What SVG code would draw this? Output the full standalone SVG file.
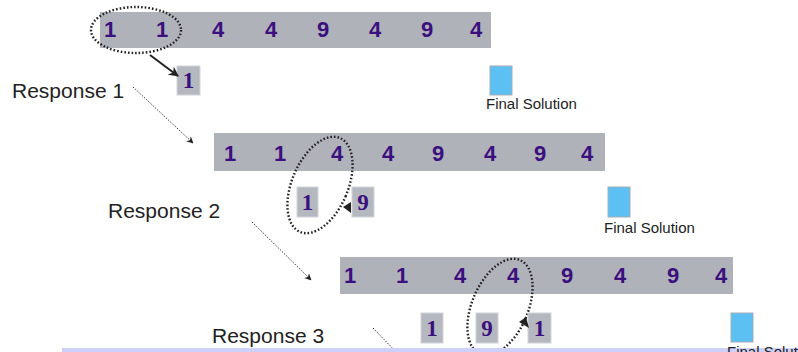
<svg xmlns="http://www.w3.org/2000/svg" width="798" height="352" viewBox="0 0 798 352">
<style>
.bar{fill:#b0b2ba}
.num{font-family:"Liberation Sans",Arial,sans-serif;font-weight:bold;font-size:22px;fill:#3a0f7e;text-anchor:middle}
.box{fill:#b6b8c0;stroke:#d2d4da;stroke-width:1}
.bnum{font-family:"Liberation Serif","Times New Roman",serif;font-weight:bold;font-size:23px;fill:#3a0f7e;text-anchor:middle}
.fin{fill:#5cc0f2;stroke:#a6adb5;stroke-width:1}
.fl{font-family:"Liberation Sans",Arial,sans-serif;font-size:15px;fill:#222}
.resp{font-family:"Liberation Sans",Arial,sans-serif;font-size:21px;fill:#222}
.dots{fill:none;stroke:#222;stroke-width:2.4;stroke-dasharray:1.6 2}
.dash{fill:none;stroke:#333;stroke-width:1;stroke-dasharray:1.5 1.5}
.solid{fill:none;stroke:#222;stroke-width:2}
.head{fill:#222}
</style>
<defs>
<marker id="ah" viewBox="0 0 10 10" refX="9" refY="5" markerWidth="10" markerHeight="10" markerUnits="userSpaceOnUse" orient="auto">
<path d="M0,0 L10,5 L0,10 L3,5 z" fill="#222"/>
</marker>
<marker id="ah2" viewBox="0 0 10 10" refX="9" refY="5" markerWidth="7" markerHeight="7" markerUnits="strokeWidth" orient="auto">
<path d="M0,0 L10,5 L0,10 L3,5 z" fill="#222"/>
</marker>
</defs>

<g id="row1">
<rect class="bar" x="100" y="12" width="391" height="36"/>
<text class="num" x="110" y="37">1</text>
<text class="num" x="162" y="37">1</text>
<text class="num" x="218" y="37">4</text>
<text class="num" x="271" y="37">4</text>
<text class="num" x="323" y="37">9</text>
<text class="num" x="375" y="37">4</text>
<text class="num" x="427" y="37">9</text>
<text class="num" x="476" y="37">4</text>
</g>
<g id="sel1"><ellipse class="dots" cx="136" cy="30" rx="45" ry="23"/></g>
<g id="r1box"><rect class="box" x="177" y="66" width="23" height="29"/><text class="bnum" x="188.5" y="88">1</text></g>
<g id="fin1"><rect class="fin" x="490" y="66" width="22" height="29"/><text class="fl" x="486" y="109">Final Solution</text></g>
<g id="resp1"><text class="resp" x="12" y="98">Response 1</text></g>

<g id="row2">
<rect class="bar" x="214" y="133" width="391" height="38"/>
<text class="num" x="230" y="161">1</text>
<text class="num" x="280" y="161">1</text>
<text class="num" x="337" y="161">4</text>
<text class="num" x="388" y="161">4</text>
<text class="num" x="438" y="161">9</text>
<text class="num" x="490" y="161">4</text>
<text class="num" x="540" y="161">9</text>
<text class="num" x="587" y="161">4</text>
</g>
<g id="sel2"><ellipse class="dots" cx="320" cy="185" rx="28" ry="51" transform="rotate(23 320 185)"/></g>
<g id="r2box1"><rect class="box" x="297" y="187" width="21" height="30"/><text class="bnum" x="307.5" y="210">1</text></g>
<g id="r2box2"><rect class="box" x="352" y="187" width="22" height="30"/><text class="bnum" x="363" y="210">9</text></g>
<g id="fin2"><rect class="fin" x="608" y="187" width="22" height="30"/><text class="fl" x="604" y="233">Final Solution</text></g>
<g id="resp2"><text class="resp" x="108" y="218">Response 2</text></g>

<g id="row3">
<rect class="bar" x="340" y="257" width="393" height="37"/>
<text class="num" x="350" y="283">1</text>
<text class="num" x="402" y="283">1</text>
<text class="num" x="460" y="283">4</text>
<text class="num" x="513" y="283">4</text>
<text class="num" x="567" y="283">9</text>
<text class="num" x="620" y="283">4</text>
<text class="num" x="673" y="283">9</text>
<text class="num" x="721" y="283">4</text>
</g>
<g id="sel3"><ellipse class="dots" cx="500" cy="307" rx="28" ry="51" transform="rotate(23 500 307)"/></g>
<g id="r3box1"><rect class="box" x="421" y="313" width="22" height="30"/><text class="bnum" x="432" y="336">1</text></g>
<g id="r3box2"><rect class="box" x="476" y="313" width="22" height="30"/><text class="bnum" x="487" y="336">9</text></g>
<g id="r3box3"><rect class="box" x="528" y="313" width="23" height="30"/><text class="bnum" x="539.5" y="336">1</text></g>
<g id="resp3"><text class="resp" x="212" y="343">Response 3</text></g>

<g id="connectors">
<line class="solid" x1="150" y1="55" x2="178" y2="76" marker-end="url(#ah)"/>
<line class="dash" x1="133" y1="87" x2="193" y2="143" marker-end="url(#ah2)"/>
<line class="dash" x1="252" y1="222" x2="311" y2="280" marker-end="url(#ah2)"/>
<line class="dash" x1="373" y1="328" x2="400" y2="356"/>
<polygon class="head" points="351,213 351,202 343,207"/>
<polygon class="head" points="529,328 526,317 519,322"/>
</g>

<rect x="62" y="348" width="736" height="4" fill="#cdd0f8"/>
<g id="fin3"><rect class="fin" x="731" y="313" width="22" height="29"/><text class="fl" x="727" y="357">Final Solution</text></g>
</svg>
